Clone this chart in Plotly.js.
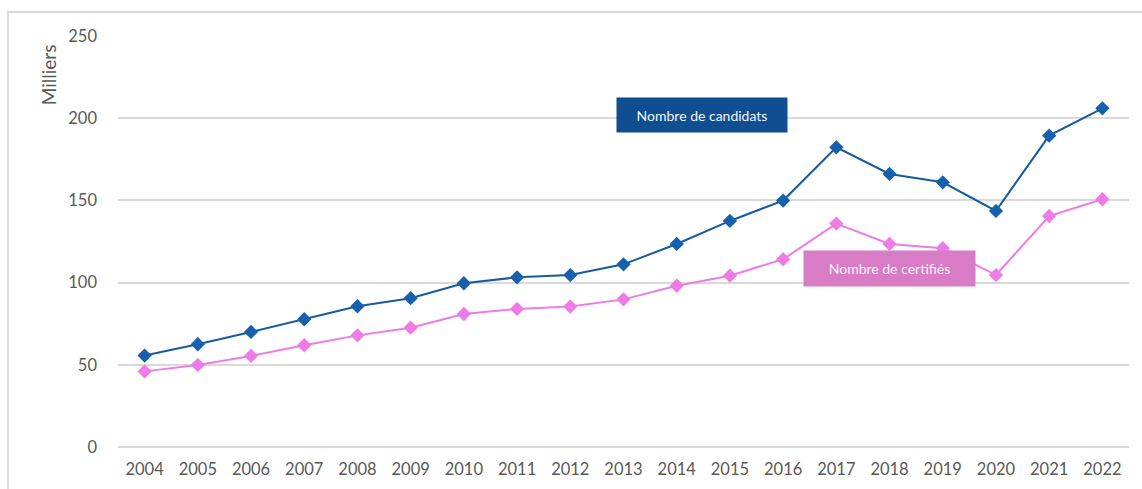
<!DOCTYPE html>
<html>
<head>
<meta charset="utf-8">
<script src="https://cdn.plot.ly/plotly-3.0.1.min.js"></script>
<style>
  html, body { margin: 0; padding: 0; background: #ffffff; }
  #wrap { position: relative; width: 1142px; height: 489px; overflow: hidden; }
  #frame { position: absolute; left: 7px; top: 11px; width: 1140px; height: 490px;
           border: 2px solid #d9d9d9; box-sizing: border-box; pointer-events: none; }
  #chart { position: absolute; left: 0; top: 0; width: 1142px; height: 489px; }
</style>
</head>
<body>
<div id="wrap">
  <div id="frame"></div>
  <div id="chart"></div>
</div>
<script>
const years = ['2004','2005','2006','2007','2008','2009','2010','2011','2012','2013','2014','2015','2016','2017','2018','2019','2020','2021','2022'];
const candidats = [55.6, 62.5, 70.0, 77.7, 85.6, 90.5, 99.6, 103.2, 104.6, 111.1, 123.5, 137.5, 149.9, 182.3, 166.1, 161.0, 143.6, 189.4, 206.0];
const certifies = [46.0, 49.9, 55.4, 61.9, 67.9, 72.6, 80.9, 84.0, 85.4, 89.8, 98.1, 104.2, 114.2, 135.9, 123.5, 120.9, 104.6, 140.5, 150.7];
const yTicks = [0, 50, 100, 150, 200, 250];
const labelCandidats = 'Nombre de candidats';
const labelCertifies = 'Nombre de certifiés';
const yTitle = 'Milliers';

const FONT = 'Lato, "Open Sans", sans-serif';
const GREY = '#595959';

const traces = [
  {
    x: years, y: certifies, type: 'scatter', mode: 'lines+markers', name: labelCertifies,
    line: { color: '#ee7be6', width: 2 },
    marker: { symbol: 'diamond', size: 11, color: '#ee7be6' }
  },
  {
    x: years, y: candidats, type: 'scatter', mode: 'lines+markers', name: labelCandidats,
    line: { color: '#175b9f', width: 2 },
    marker: { symbol: 'diamond', size: 11, color: '#1660ad' }
  }
];

const layout = {
  width: 1142, height: 489,
  margin: { l: 118, r: 13, t: 36, b: 42 },
  paper_bgcolor: 'rgba(0,0,0,0)',
  plot_bgcolor: 'rgba(0,0,0,0)',
  showlegend: false,
  font: { family: FONT, size: 16, color: GREY },
  xaxis: {
    type: 'category',
    range: [-0.5, years.length - 0.5], autorange: false,
    showgrid: false, showline: false, zeroline: false,
    ticks: '', tickfont: { family: FONT, size: 16.5, color: GREY },
    ticklabelstandoff: 10
  },
  yaxis: {
    range: [0, 250], autorange: false, tickvals: yTicks, ticktext: yTicks.map(String),
    showgrid: true, gridcolor: '#d9d9d9', gridwidth: 2,
    zeroline: true, zerolinecolor: '#d9d9d9', zerolinewidth: 2,
    showline: false, ticks: '',
    tickfont: { family: FONT, size: 16.5, color: GREY },
    ticklabelstandoff: 20
  },
  annotations: [
    {
      xref: 'paper', yref: 'paper', x: -0.069, y: 0.905,
      xanchor: 'center', yanchor: 'middle',
      text: yTitle, showarrow: false, textangle: -90,
      font: { family: FONT, size: 19, color: GREY }
    },
    {
      xref: 'paper', yref: 'paper', x: 0.578, y: 0.809,
      xanchor: 'center', yanchor: 'middle',
      text: labelCandidats, showarrow: false,
      width: 170, height: 34, borderpad: 0,
      bgcolor: '#0f4f91',
      font: { family: FONT, size: 14, color: '#f2f5fa' }
    },
    {
      xref: 'paper', yref: 'paper', x: 0.7636, y: 0.434,
      xanchor: 'center', yanchor: 'middle',
      text: labelCertifies, showarrow: false,
      width: 171, height: 35, borderpad: 0,
      bgcolor: '#d97cc6',
      font: { family: FONT, size: 14, color: '#fbeef8' }
    }
  ]
};

Plotly.newPlot('chart', traces, layout, { displayModeBar: false, staticPlot: true });
</script>
</body>
</html>
